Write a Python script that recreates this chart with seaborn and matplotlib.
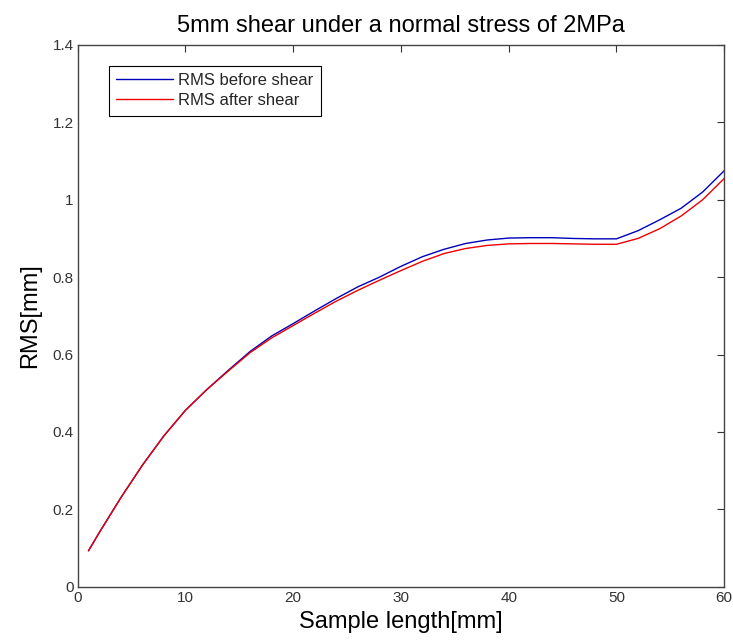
import matplotlib
matplotlib.use("Agg")
import matplotlib.pyplot as plt
import seaborn as sns
import pandas as pd

sample_length = [1, 2, 3, 4, 5, 6, 8, 10, 12, 14, 16, 18, 20, 22, 24, 26, 28, 30,
                 32, 34, 36, 38, 40, 42, 44, 46, 48, 50, 52, 54, 56, 58, 60]
rms_before = [0.093, 0.140, 0.185, 0.230, 0.272, 0.314, 0.390, 0.456, 0.510, 0.560,
              0.608, 0.648, 0.680, 0.713, 0.745, 0.775, 0.800, 0.828, 0.853, 0.872,
              0.887, 0.896, 0.901, 0.902, 0.902, 0.900, 0.899, 0.899, 0.920, 0.948,
              0.978, 1.020, 1.075]
rms_after = [0.093, 0.140, 0.185, 0.230, 0.272, 0.314, 0.390, 0.456, 0.510, 0.558,
             0.605, 0.643, 0.675, 0.707, 0.738, 0.766, 0.792, 0.817, 0.841, 0.861,
             0.874, 0.882, 0.886, 0.887, 0.887, 0.886, 0.885, 0.885, 0.900, 0.925,
             0.958, 1.000, 1.055]
series_names = ["RMS before shear", "RMS after shear"]
x_ticks = [0, 10, 20, 30, 40, 50, 60]
y_ticks = [0, 0.2, 0.4, 0.6, 0.8, 1.0, 1.2, 1.4]
y_tick_labels = ["0", "0.2", "0.4", "0.6", "0.8", "1", "1.2", "1.4"]

df = pd.DataFrame({
    "x": sample_length * 2,
    "y": rms_before + rms_after,
    "series": [series_names[0]] * len(sample_length) + [series_names[1]] * len(sample_length),
})

sns.set_style("white")
plt.rcParams["font.family"] = ["Liberation Sans", "DejaVu Sans"]

fig = plt.figure(figsize=(7.33, 6.42), dpi=100)
ax = fig.add_axes([0.106, 0.086, 0.882, 0.844])

sns.lineplot(data=df, x="x", y="y", hue="series", palette=["#0000bb", "#ee0000"],
             linewidth=1.0, ax=ax, estimator=None, sort=False)

ax.set_xlim(0, 60)
ax.set_ylim(0, 1.4)
ax.set_xticks(x_ticks)
ax.set_yticks(y_ticks)
ax.set_yticklabels(y_tick_labels)
ax.tick_params(direction="in", length=5, width=0.8, top=True, right=True,
               labelsize=11, colors="#333333", labelcolor="#333333", pad=3)
for s in ax.spines.values():
    s.set_color("#444444")
    s.set_linewidth(1.0)

ax.set_xlabel("Sample length[mm]", fontsize=17, color="black", labelpad=4)
ax.set_ylabel("RMS[mm]", fontsize=17, color="black", labelpad=8)
ax.set_title("5mm shear under a normal stress of 2MPa", fontsize=17, pad=9, color="black")

leg = ax.legend(loc="upper left", bbox_to_anchor=(0.048, 0.962), fontsize=12,
                frameon=True, fancybox=False, handlelength=3.4, borderpad=0.45,
                labelspacing=0.3, handletextpad=0.3, borderaxespad=0)
leg.get_frame().set_edgecolor("black")
leg.get_frame().set_linewidth(0.8)
leg.get_frame().set_alpha(1)

fig.savefig("out.png", dpi=100)
